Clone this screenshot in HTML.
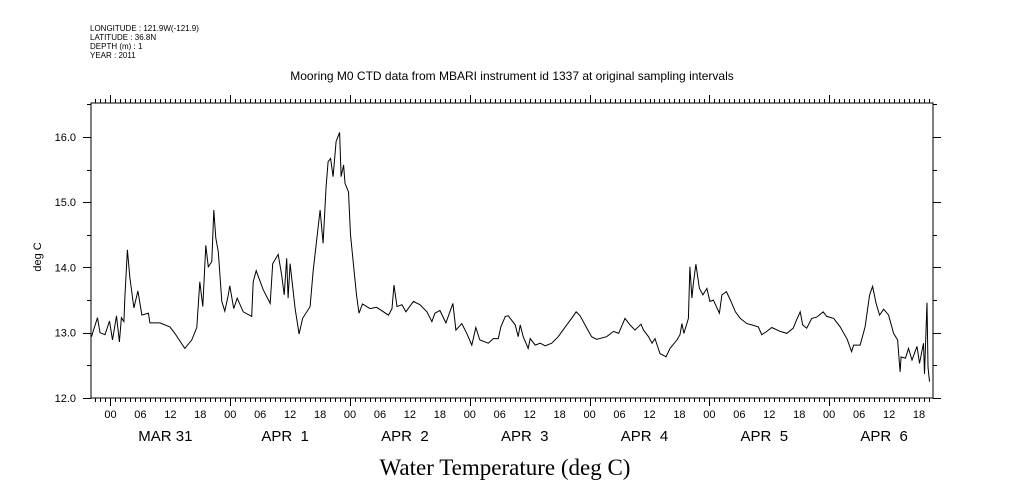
<!DOCTYPE html>
<html><head><meta charset="utf-8"><style>
body{margin:0;background:#fff;}
svg{display:block;font-family:"Liberation Sans",sans-serif;}
</style></head><body>
<svg id="chart" width="1009" height="504" viewBox="0 0 1009 504" xmlns="http://www.w3.org/2000/svg">
<g font-size="8" fill="#000">
<text x="90" y="31">LONGITUDE : 121.9W(-121.9)</text>
<text x="90" y="40">LATITUDE : 36.8N</text>
<text x="90" y="49">DEPTH (m) : 1</text>
<text x="90" y="58">YEAR : 2011</text>
</g>
<text x="512" y="80" font-size="12" text-anchor="middle">Mooring M0 CTD data from MBARI instrument id 1337 at original sampling intervals</text>
<text x="0" y="0" font-size="11" text-anchor="middle" transform="translate(41,257) rotate(-90)">deg C</text>
<text x="505" y="475" font-size="23" text-anchor="middle" font-family="'Liberation Serif',serif">Water Temperature (deg C)</text>
<g id="axes"></g>
<g id="series"></g>
</svg>
<script>
const hours=[-3.8,-3.4,-2.6,-2.1,-1.1,-0.2,0.4,1.2,1.8,2.2,2.7,2.9,3.4,3.9,4.7,5.5,6.3,7.6,7.9,9.9,11.9,12.9,14.9,16.3,17.3,17.9,18.5,19.1,19.6,20.3,20.7,21.1,21.6,22.3,22.9,23.6,23.9,24.7,25.4,26.6,28.3,28.6,29.2,30.6,32.0,32.5,33.6,34.3,34.8,35.3,35.6,36.0,37.0,37.8,38.5,40.0,40.6,42.0,42.6,43.2,43.6,44.1,44.6,45.2,45.9,46.2,46.7,47.0,47.7,48.1,48.7,49.3,49.8,50.5,52.0,53.3,55.7,56.4,56.8,57.4,58.4,59.2,60.7,62.0,63.4,64.4,65.0,66.0,67.2,68.6,69.2,70.4,71.4,72.4,73.2,74.0,75.7,76.7,77.7,78.2,79.1,79.7,81.1,81.7,82.1,82.7,83.7,84.1,85.1,86.1,87.1,88.4,89.7,91.4,92.4,93.3,94.1,95.3,96.4,97.4,99.4,100.8,101.8,103.1,104.1,105.1,106.3,106.8,107.8,108.5,109.1,110.1,111.1,111.3,112.1,113.5,114.1,114.5,114.9,115.8,116.1,116.5,116.8,117.3,118.0,118.7,119.5,120.1,120.8,122.0,122.5,123.4,124.2,125.2,126.2,127.5,128.5,129.8,130.5,131.5,132.5,134.2,135.5,136.8,137.5,138.2,138.7,139.5,140.5,141.5,142.8,143.5,144.9,146.2,147.6,148.5,148.9,150.2,151.2,152.1,152.7,153.4,154.1,154.9,155.9,156.9,157.7,158.2,158.4,159.3,159.9,160.6,161.6,162.1,162.9,163.1,163.6,163.8,164.1];
const temps=[12.94,13.04,13.23,13.0,12.97,13.18,12.89,13.26,12.86,13.23,13.17,13.55,14.27,13.84,13.38,13.64,13.27,13.30,13.15,13.15,13.09,12.99,12.76,12.89,13.08,13.78,13.40,14.34,14.01,14.09,14.88,14.45,14.24,13.48,13.33,13.58,13.72,13.37,13.53,13.32,13.25,13.78,13.95,13.66,13.45,14.06,14.20,13.88,13.58,14.14,13.53,14.06,13.37,12.98,13.22,13.40,13.94,14.88,14.37,15.24,15.62,15.67,15.39,15.93,16.07,15.39,15.57,15.29,15.16,14.50,14.04,13.58,13.30,13.44,13.37,13.39,13.27,13.37,13.73,13.40,13.43,13.32,13.48,13.43,13.32,13.17,13.30,13.34,13.15,13.45,13.04,13.14,12.99,12.81,13.08,12.89,12.84,12.91,12.91,13.09,13.25,13.26,13.12,12.94,13.12,12.94,12.76,12.91,12.81,12.84,12.80,12.84,12.94,13.12,13.22,13.32,13.26,13.09,12.94,12.90,12.94,13.02,12.99,13.22,13.12,13.04,13.13,13.04,12.94,12.84,12.91,12.68,12.64,12.63,12.76,12.89,12.97,13.14,12.99,13.22,14.01,13.53,13.76,14.05,13.68,13.58,13.68,13.48,13.50,13.30,13.58,13.63,13.50,13.32,13.22,13.14,13.12,13.09,12.97,13.02,13.08,13.02,12.99,13.07,13.20,13.32,13.12,13.07,13.22,13.24,13.32,13.25,13.22,13.09,12.90,12.71,12.81,12.81,13.09,13.58,13.71,13.45,13.27,13.36,13.27,12.99,12.89,12.40,12.63,12.61,12.76,12.58,12.79,12.53,12.84,12.37,13.46,12.48,12.25];
const yTicks=[12,13,14,15,16];
const hourLabels=["00","06","12","18"];
const dayLabels=["MAR 31","APR  1","APR  2","APR  3","APR  4","APR  5","APR  6"];

const NS="http://www.w3.org/2000/svg";
const L=91,R=933,T=103,B=398;
const hMin=-3.9,hMax=164.8,tMin=12,tMax=16.52;
function xs(h){return L+(h-hMin)/(hMax-hMin)*(R-L);}
function ys(t){return B-(t-tMin)/(tMax-tMin)*(B-T);}
function mk(tag,attrs,parent){const e=document.createElementNS(NS,tag);for(const k in attrs)e.setAttribute(k,attrs[k]);parent.appendChild(e);return e;}
const axes=document.getElementById('axes');
const frame=mk('rect',{x:L,y:T,width:R-L,height:B-T,fill:'none',stroke:'#000','stroke-width':1},axes);


let d='';
for(let h=Math.ceil(hMin);h<=hMax;h++){
  const x=Math.round(xs(h))+0.5;
  const len=(((h%24)+24)%24===0)?8:4;
  d+=`M${x} ${B}v${len}M${x} ${T}v${-len}`;
}
for(let t=12;t<=16.5;t+=0.5){
  const y=Math.round(ys(t))+0.5;
  const len=(t%1===0)?8:4;
  d+=`M${L} ${y}h${-len}M${R} ${y}h${len}`;
}
const ticks=mk('path',{d:d,stroke:'#000','stroke-width':1,fill:'none'},axes);


yTicks.forEach(t=>{
  const tx=mk('text',{x:76,y:ys(t)+4,'font-size':11,'text-anchor':'end'},axes);
  tx.textContent=t.toFixed(1);
  
  
});
for(let h=0;h<=hMax;h+=6){
  const tx=mk('text',{x:xs(h),y:418,'font-size':11,'text-anchor':'middle'},axes);
  tx.textContent=hourLabels[(h/6)%4];
  
  
}
dayLabels.forEach((lab,i)=>{
  const tx=mk('text',{x:xs(i*24+11),y:441,'font-size':15,'text-anchor':'middle','xml:space':'preserve'},axes);
  tx.style.whiteSpace='pre';
  tx.textContent=lab;
  
  
});
const pts=hours.map((h,i)=>xs(h).toFixed(1)+','+ys(temps[i]).toFixed(1)).join(' ');
const line=mk('polyline',{points:pts,fill:'none',stroke:'#000','stroke-width':1},document.getElementById('series'));


</script>
</body></html>
